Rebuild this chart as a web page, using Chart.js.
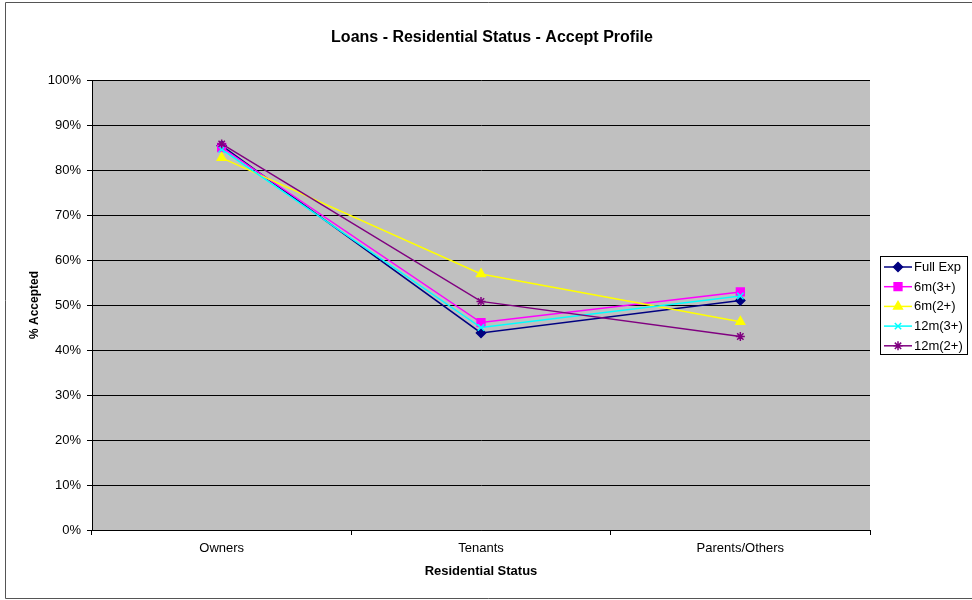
<!DOCTYPE html>
<html>
<head>
<meta charset="utf-8">
<script src="https://cdn.jsdelivr.net/npm/chart.js@4/dist/chart.umd.min.js"></script>
<style>
  html, body { margin: 0; padding: 0; background: #ffffff; }
  #wrap { width: 972px; height: 600px; }
</style>
</head>
<body>
<div id="wrap"><canvas id="c" width="972" height="600"></canvas></div>
<script>
// Residential status categories
const categories = ['Owners', 'Tenants', 'Parents/Others'];

// Acceptance rates (%) per scorecard window
const fullExp = [85.4, 43.8, 51.0];
const m6_3 = [85.0, 46.1, 52.9];
const m6_2 = [82.7, 56.9, 46.3];
const m12_3 = [84.6, 45.0, 52.0];
const m12_2 = [85.8, 50.8, 43.0];

const seriesNames = ['Full Exp', '6m(3+)', '6m(2+)', '12m(3+)', '12m(2+)'];
const yTicks = [0, 10, 20, 30, 40, 50, 60, 70, 80, 90, 100];
const chartTitle = 'Loans - Residential Status - Accept Profile';

const FONT = '"Liberation Sans", Arial, sans-serif';

const styles = [
  { color: '#000080', pointStyle: 'rectRot', radius: 4.5 },
  { color: '#FF00FF', pointStyle: 'rect', radius: 5.5 },
  { color: '#FFFF00', pointStyle: 'triangle', radius: 5 },
  { color: '#00FFFF', pointStyle: 'crossRot', radius: 4.5 },
  { color: '#800080', pointStyle: 'star', radius: 4.5 }
];
const values = [fullExp, m6_3, m6_2, m12_3, m12_2];

const datasets = values.map((v, i) => ({
  label: seriesNames[i],
  data: v,
  borderColor: styles[i].color,
  backgroundColor: styles[i].color,
  pointBorderColor: styles[i].color,
  pointBackgroundColor: styles[i].color,
  pointStyle: styles[i].pointStyle,
  pointRadius: styles[i].radius,
  pointBorderWidth: 1.5,
  borderWidth: 1.5,
  tension: 0,
  fill: false,
  order: values.length - 1 - i
}));

// Grey plot area, title, outer frame and boxed legend
const frame = {
  id: 'frame',
  beforeDraw(chart) {
    const { ctx, chartArea: a } = chart;
    ctx.save();
    ctx.fillStyle = '#C0C0C0';
    ctx.fillRect(a.left, a.top, a.right - a.left, a.bottom - a.top);
    ctx.restore();
  },
  afterDraw(chart) {
    const ctx = chart.ctx;
    ctx.save();
    // outer frame
    ctx.strokeStyle = '#555555';
    ctx.lineWidth = 1;
    ctx.beginPath();
    ctx.moveTo(972, 2.5);
    ctx.lineTo(5.5, 2.5);
    ctx.lineTo(5.5, 598.5);
    ctx.lineTo(972, 598.5);
    ctx.stroke();

    // title
    ctx.fillStyle = '#000000';
    ctx.font = 'bold 16px ' + FONT;
    ctx.textAlign = 'center';
    ctx.textBaseline = 'middle';
    ctx.fillText(chartTitle, 492, 38);

    // legend
    const lx = 880.5, ly = 256.5, lw = 87, lh = 98;
    ctx.fillStyle = '#ffffff';
    ctx.fillRect(lx, ly, lw, lh);
    ctx.strokeStyle = '#000000';
    ctx.strokeRect(lx, ly, lw, lh);
    ctx.font = '13px ' + FONT;
    ctx.textBaseline = 'middle';
    ctx.textAlign = 'left';
    chart.data.datasets.forEach((ds, i) => {
      const y = 267 + i * 19.7;
      ctx.strokeStyle = ds.borderColor;
      ctx.lineWidth = 1.5;
      ctx.beginPath();
      ctx.moveTo(884, y);
      ctx.lineTo(912, y);
      ctx.stroke();
      ctx.fillStyle = ds.pointBackgroundColor;
      ctx.strokeStyle = ds.pointBorderColor;
      ctx.lineWidth = ds.pointBorderWidth;
      Chart.helpers.drawPoint(ctx, {
        pointStyle: ds.pointStyle, rotation: 0,
        radius: ds.pointRadius, borderWidth: ds.pointBorderWidth
      }, 898, y);
      ctx.fillStyle = '#000000';
      ctx.fillText(ds.label, 914, y + 0.5);
    });
    ctx.restore();
  }
};

new Chart(document.getElementById('c'), {
  type: 'line',
  data: { labels: categories, datasets },
  plugins: [frame],
  options: {
    responsive: false,
    animation: false,
    devicePixelRatio: 1,
    layout: { padding: { left: 5, top: 80, right: 102, bottom: 10 } },
    plugins: {
      legend: { display: false },
      tooltip: { enabled: false },
      title: { display: false }
    },
    scales: {
      x: {
        offset: true,
        afterFit(scale) { scale.height = 60; },
        grid: {
          offset: true,
          drawOnChartArea: false,
          drawTicks: true,
          tickLength: 5,
          color: '#000000',
          tickColor: '#000000'
        },
        border: { display: true, color: '#000000', width: 1 },
        ticks: {
          color: '#000000',
          font: { family: FONT, size: 13 },
          padding: 6,
          maxRotation: 0
        },
        title: {
          display: true,
          text: 'Residential Status',
          color: '#000000',
          font: { family: FONT, size: 13, weight: 'bold' },
          padding: { top: 0, bottom: 11 }
        }
      },
      y: {
        min: 0,
        max: 100,
        afterFit(scale) { scale.width = 87; },
        afterBuildTicks(scale) { scale.ticks = yTicks.map(v => ({ value: v })); },
        grid: {
          color: '#000000',
          tickColor: '#000000',
          tickLength: 5,
          lineWidth: 1
        },
        border: { display: true, color: '#000000', width: 1 },
        ticks: {
          color: '#000000',
          font: { family: FONT, size: 13 },
          padding: 6,
          callback: v => v + '%'
        },
        title: {
          display: true,
          text: '% Accepted',
          color: '#000000',
          font: { family: FONT, size: 12, weight: 'bold' },
          padding: { top: 22, bottom: 0 }
        }
      }
    }
  }
});
</script>
</body>
</html>
